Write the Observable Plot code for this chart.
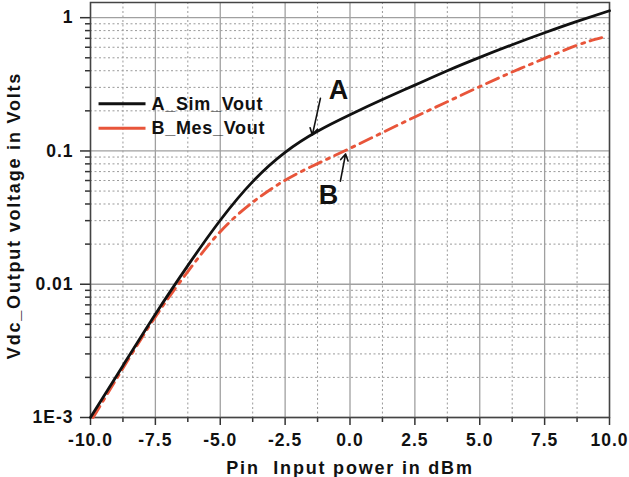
<!DOCTYPE html>
<html>
<head>
<meta charset="utf-8">
<script src="https://cdn.jsdelivr.net/npm/d3@7"></script>
<script src="https://cdn.jsdelivr.net/npm/@observablehq/plot@0.6"></script>
<style>
  html, body { margin: 0; padding: 0; background: #fff; }
  svg text { white-space: pre; }
  g[aria-label="x-axis tick label"] text,
  g[aria-label="y-axis tick label"] text { letter-spacing: 1px; }
  text[aria-label="axis title"] { letter-spacing: 1.8px; }
  text[aria-label="legend label"] { letter-spacing: 0.7px; }
</style>
</head>
<body>
<div id="chart"></div>
<script>
// Input power sweep (dBm) and rectified DC output (V)
const simPower = [-10, -8.75, -7.5, -6.25, -5, -3.75, -2.5, -1.25, 0, 1.25, 2.5, 3.75, 5, 6.25, 7.5, 8.75, 10];
const simVout  = [0.001, 0.00245, 0.00596, 0.0138, 0.0302, 0.0589, 0.0977, 0.1406, 0.187, 0.243, 0.312, 0.4, 0.504, 0.627, 0.771, 0.938, 1.127];

const mesPower = [-9.9, -8.75, -7.5, -6.25, -5, -3.75, -2.5, -1.25, 0, 1.25, 2.5, 3.75, 5, 6.25, 7.5, 8.75, 9.7];
const mesVout  = [0.001, 0.00234, 0.00569, 0.01245, 0.0248, 0.0412, 0.0603, 0.0804, 0.1047, 0.1374, 0.18, 0.234, 0.304, 0.391, 0.495, 0.621, 0.708];

const seriesNames = ["A_Sim_Vout", "B_Mes_Vout"];
const seriesColors = ["#111111", "#e8553a"];

// Axis ticks
const xMajor = [-10, -7.5, -5, -2.5, 0, 2.5, 5, 7.5, 10];
const xMinor = [-8.75, -6.25, -3.75, -1.25, 1.25, 3.75, 6.25, 8.75];
const yMajor = [0.001, 0.01, 0.1, 1];
const yTickLabels = ["1E-3", "0.01", "0.1", "1"];
const yMinor = [0.001, 0.01, 0.1].flatMap(d => [2, 3, 4, 5, 6, 7, 8, 9].map(k => +(d * k).toPrecision(3)));

const xTitle = "Pin  Input power in dBm";
const yTitle = "Vdc_Output voltage in Volts";

// Legend entries placed inside the upper-left of the frame (data coordinates)
const legendRows = [
  {name: seriesNames[0], x1: -9.69, x2: -7.88, y: 0.226, tx: -7.65, color: seriesColors[0], dash: null},
  {name: seriesNames[1], x1: -9.69, x2: -7.88, y: 0.148, tx: -7.65, color: seriesColors[1], dash: "17,7,3,7"}
];

// Callouts pointing at each curve
const callouts = [
  {label: "A", lx: -0.44, ly: 0.285, x1: -1.14, y1: 0.248, x2: -1.45, y2: 0.132},
  {label: "B", lx: -0.83, ly: 0.0465, x1: -0.37, y1: 0.0593, x2: -0.17, y2: 0.095}
];

const sim = simPower.map((p, i) => ({p, v: simVout[i]}));
const mes = mesPower.map((p, i) => ({p, v: mesVout[i]}));

const chart = Plot.plot({
  width: 629,
  height: 477,
  marginLeft: 90,
  marginRight: 20,
  marginTop: 2,
  marginBottom: 60,
  style: {
    fontFamily: "'Liberation Sans', Arial, Helvetica, sans-serif",
    fontWeight: "bold",
    fontSize: "17.5px",
    color: "#111",
    background: "#fff",
    overflow: "visible"
  },
  x: {domain: [-10, 10]},
  y: {type: "log", domain: [0.001, 1.3]},
  marks: [
    // grid
    Plot.ruleY(yMinor, {stroke: "#9a9a9a", strokeWidth: 1, strokeDasharray: "2,2.5"}),
    Plot.ruleX(xMinor, {stroke: "#9a9a9a", strokeWidth: 1, strokeDasharray: "2,2.5"}),
    Plot.ruleY(yMajor, {stroke: "#a0a0a0", strokeWidth: 1.3}),
    Plot.ruleX(xMajor, {stroke: "#a0a0a0", strokeWidth: 1.3}),

    // axes
    Plot.axisX({ticks: xMajor, tickSize: 8, tickPadding: 8, tickFormat: d => d.toFixed(1),
      label: null, stroke: "#333", strokeWidth: 1.5, fill: "#111"}),
    Plot.axisX({ticks: xMinor, tickSize: 5, tickFormat: () => "", label: null, stroke: "#333", strokeWidth: 1.5}),
    Plot.axisY({ticks: yMajor, tickSize: 10, tickPadding: 7,
      tickFormat: d => yTickLabels[yMajor.indexOf(d)], label: null, stroke: "#333", strokeWidth: 1.5, fill: "#111"}),
    Plot.axisY({ticks: yMinor, tickSize: 5, tickFormat: () => "", label: null, stroke: "#333", strokeWidth: 1.5}),
    Plot.frame({stroke: "#444", strokeWidth: 1.5}),

    // curves
    Plot.line(mes, {x: "p", y: "v", stroke: seriesColors[1], strokeWidth: 2.9,
      strokeDasharray: "13,6,3,6", curve: "natural"}),
    Plot.line(sim, {x: "p", y: "v", stroke: seriesColors[0], strokeWidth: 2.8, curve: "natural"}),

    // legend
    Plot.link(legendRows, {x1: "x1", x2: "x2", y1: "y", y2: "y", stroke: "color",
      strokeWidth: 2.8, strokeDasharray: d => d.dash}),
    Plot.text(legendRows, {x: "tx", y: "y", text: "name", textAnchor: "start",
      fontSize: 18, fill: "#111", ariaLabel: () => "legend label"}),

    // callouts
    Plot.arrow(callouts, {x1: "x1", y1: "y1", x2: "x2", y2: "y2", stroke: "#111",
      strokeWidth: 1.6, headLength: 7}),
    Plot.text(callouts, {x: "lx", y: "ly", text: "label", fontSize: 27, fill: "#111"}),

    // axis titles
    Plot.text([xTitle], {text: d => d, frameAnchor: "bottom", dy: 51, fontSize: 18,
      textAnchor: "middle", lineAnchor: "middle", fill: "#111", ariaLabel: () => "axis title"}),
    Plot.text([yTitle], {text: d => d, frameAnchor: "left", dx: -76.5, dy: 5.5, rotate: -90,
      textAnchor: "middle", lineAnchor: "middle", fontSize: 18, fill: "#111", ariaLabel: () => "axis title"})
  ]
});

document.getElementById("chart").appendChild(chart);
</script>
</body>
</html>
